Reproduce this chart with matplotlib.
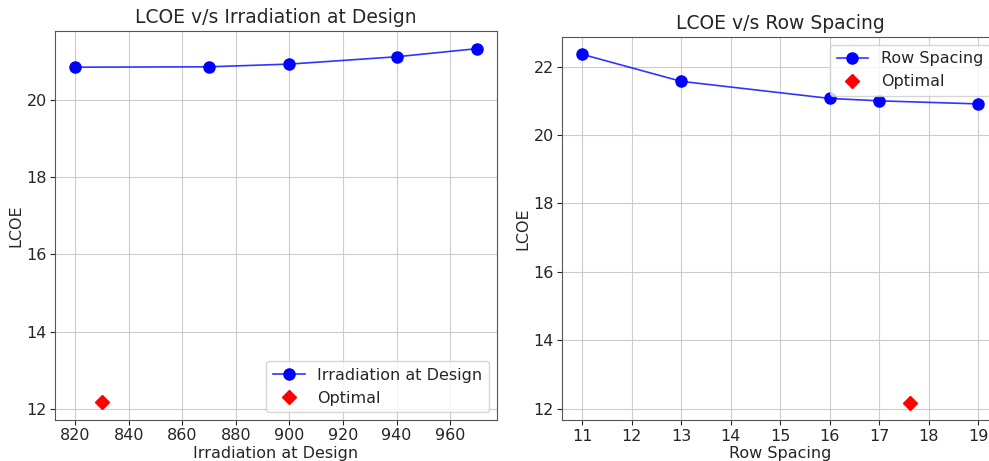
import matplotlib.pyplot as plt
import numpy as np

# irradiation at design vs LCOE
irr = np.array([820, 870, 900, 940, 970])
lcoe_irr = np.array([20.85, 20.86, 20.93, 21.12, 21.33])
irr_opt = [830]
lcoe_irr_opt = [12.17]

# row spacing vs LCOE
rs = np.array([11, 13, 16, 17, 19])
lcoe_rs = np.array([22.36, 21.57, 21.07, 21.0, 20.91])
rs_opt = [17.63]
lcoe_rs_opt = [12.17]

plt.rcParams['font.family'] = ['DejaVu Sans']
plt.rcParams['font.size'] = 11.5
plt.rcParams['text.color'] = '#262626'
plt.rcParams['axes.labelcolor'] = '#262626'
plt.rcParams['xtick.color'] = '#262626'
plt.rcParams['ytick.color'] = '#262626'
plt.rcParams['xtick.major.size'] = 3.5
plt.rcParams['ytick.major.size'] = 3.5
plt.rcParams['xtick.major.pad'] = 2.5
plt.rcParams['ytick.major.pad'] = 2.5
plt.rcParams['axes.labelpad'] = 2

line_col = (0, 0, 1, 0.8)

fig = plt.figure(figsize=(9.89, 4.61), dpi=100)
ax1 = fig.add_axes([0.0556, 0.0889, 0.4469, 0.8439])
ax2 = fig.add_axes([0.5686, 0.0883, 0.4405, 0.8317])

ax1.plot(irr, lcoe_irr, 'o-', color=line_col, markerfacecolor='blue', markeredgecolor='blue',
         markersize=8, linewidth=1.2, label='Irradiation at Design')
ax1.plot(irr_opt, lcoe_irr_opt, 'D', color='red', markersize=7, label='Optimal')
ax1.set_title('LCOE v/s Irradiation at Design', fontsize=13.5)
ax1.set_xlabel('Irradiation at Design')
ax1.set_ylabel('LCOE')
ax1.set_xticks(np.arange(820, 961, 20))
ax1.legend(loc='lower right')
ax1.grid(color='#cccccc')

ax2.plot(rs, lcoe_rs, 'o-', color=line_col, markerfacecolor='blue', markeredgecolor='blue',
         markersize=8, linewidth=1.2, label='Row Spacing')
ax2.plot(rs_opt, lcoe_rs_opt, 'D', color='red', markersize=7, label='Optimal')
ax2.set_title('LCOE v/s Row Spacing', fontsize=13.5)
ax2.set_xlabel('Row Spacing')
ax2.set_ylabel('LCOE')
ax2.set_xticks(np.arange(11, 20, 1))
ax2.legend(loc='upper right')
ax2.grid(color='#cccccc')

for ax in (ax1, ax2):
    for s in ax.spines.values():
        s.set_color('#555555')
    ax.set_axisbelow(True)

fig.savefig('out.png', dpi=100)
